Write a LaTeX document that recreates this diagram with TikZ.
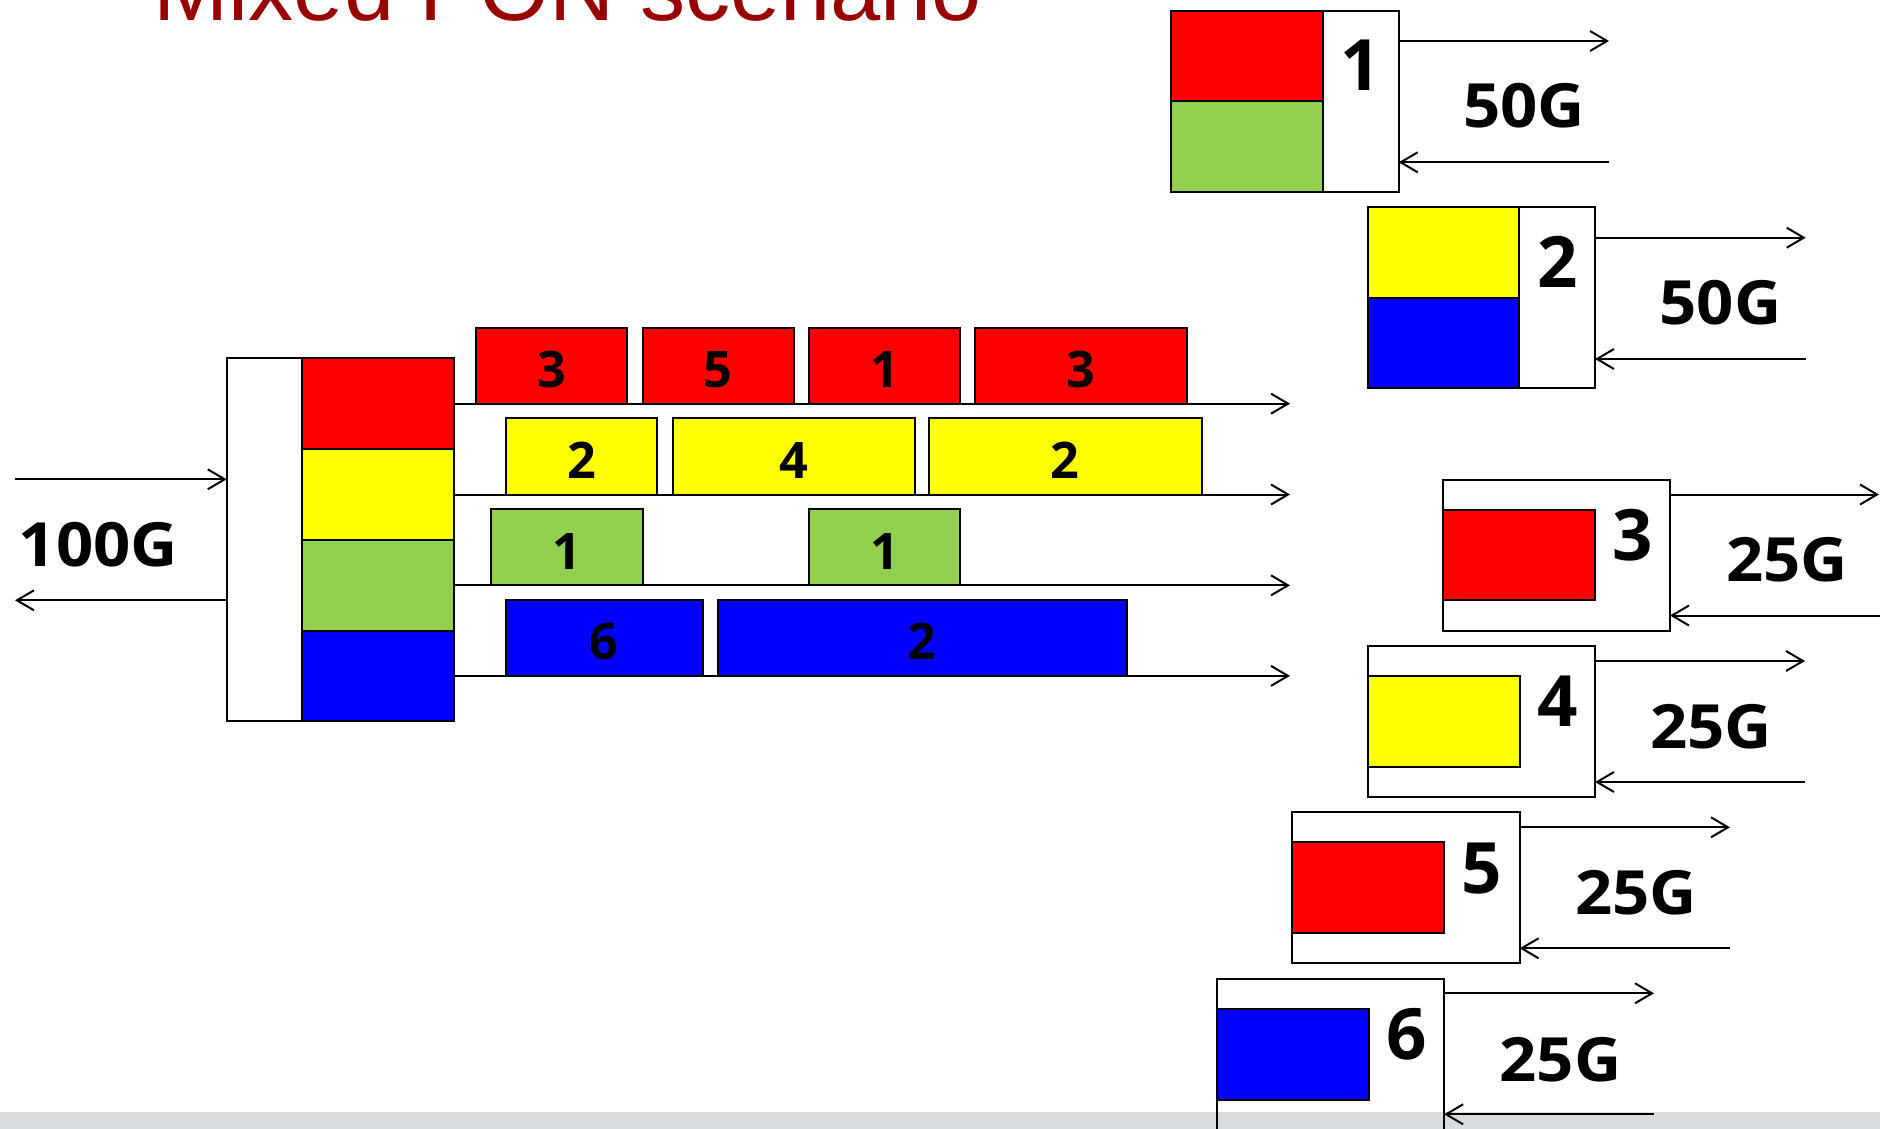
\documentclass[tikz,border=0pt]{standalone}
\usepackage{fontspec}
\newfontfamily\osans{Open Sans}
\newfontfamily\osanswide{Open Sans}[FakeStretch=1.07]
\newfontfamily\lsans{Liberation Sans}
\usetikzlibrary{arrows.meta,calc}
\definecolor{pred}{RGB}{255,0,0}
\definecolor{pyel}{RGB}{255,255,0}
\definecolor{pgrn}{RGB}{146,208,80}
\definecolor{pblu}{RGB}{0,0,255}
\definecolor{ttlred}{RGB}{153,0,0}
\definecolor{footgray}{RGB}{217,220,222}
\newcommand\cellbox[6]{\node[cell,#6,anchor=north west,minimum width={(#4-#2)*0.5pt},minimum height={(#5-#3)*0.5pt}] (#1) at (#2,#3)}
\begin{document}
\begin{tikzpicture}[x=0.5pt,y=-0.5pt,
  cell/.style={draw=black,line width=1pt,inner sep=0pt,outer sep=0pt,rectangle},
  slot/.style={text height=22pt,text depth=0pt,font=\osans\bfseries\fontsize{25.2pt}{30pt}\selectfont},
  arr/.style={line width=1pt,-{Straight Barb[length=8.5pt,width=10pt]}},
  onunum/.style={inner sep=0pt,font=\osans\bfseries\fontsize{35.4pt}{40pt}\selectfont,anchor=base},
  rate/.style={inner sep=0pt,font=\osanswide\bfseries\fontsize{30.5pt}{36pt}\selectfont,anchor=base},
]
\useasboundingbox (0,0) rectangle (1880,1129);
\clip (0,0) rectangle (1880,1129);
\fill[footgray] (0,1112) rectangle (1880,1129);

% title
\node[anchor=base west,inner sep=0pt,text=ttlred,font=\lsans\fontsize{45.15pt}{50pt}\selectfont] (title) at (153,20.7) {Mixed PON scenario};

% OLT
\cellbox{olt}{226.7}{358.3}{453.7}{721}{}{};
\cellbox{bR}{302}{358.3}{453.7}{449}{fill=pred}{};
\cellbox{bY}{302}{449}{453.7}{540}{fill=pyel}{};
\cellbox{bG}{302}{540}{453.7}{630.7}{fill=pgrn}{};
\cellbox{bB}{302}{630.7}{453.7}{721}{fill=pblu}{};

\coordinate (inA) at (15,479.3);
\coordinate (outA) at (15,600.3);
\draw[arr] (inA) -- (inA -| olt.west);
\draw[arr] (outA -| olt.west) -- (outA);
\node[rate] (r100) at (98.5,566.7) {100G};

% wavelength lines
\coordinate (e0) at (1290,0);
\draw[arr] (bR.east) -- (bR.east -| e0);
\draw[arr] (bY.east) -- (bY.east -| e0);
\draw[arr] (bG.east) -- (bG.east -| e0);
\draw[arr] (bB.east) -- (bB.east -| e0);

% data slots
\cellbox{s1}{476}{328}{627}{403.65}{slot,fill=pred}{3};
\cellbox{s2}{642.5}{328}{793.7}{403.65}{slot,fill=pred}{5};
\cellbox{s3}{809}{328}{960.2}{403.65}{slot,fill=pred}{1};
\cellbox{s4}{974.8}{328}{1187}{403.65}{slot,fill=pred}{3};
\cellbox{s5}{506}{418.3}{657}{494.5}{slot,fill=pyel}{2};
\cellbox{s6}{672.5}{418.3}{914.5}{494.5}{slot,fill=pyel}{4};
\cellbox{s7}{929}{418.3}{1201.5}{494.5}{slot,fill=pyel}{2};
\cellbox{s8}{491}{509.3}{642.5}{585.35}{slot,fill=pgrn}{1};
\cellbox{s9}{809}{509.3}{960.2}{585.35}{slot,fill=pgrn}{1};
\cellbox{s10}{506}{600}{702.6}{675.85}{slot,fill=pblu}{6};
\cellbox{s11}{718}{600}{1126.5}{675.85}{slot,fill=pblu}{2};

% ONU 1
\cellbox{onu1}{1171}{10.7}{1398.7}{192.3}{}{};
\cellbox{c1a}{1171}{10.7}{1322.7}{101.5}{fill=pred}{};
\cellbox{c1b}{1171}{101.5}{1322.7}{192.3}{fill=pgrn}{};
\node[onunum] (n1) at (1360.7,90.7) {1};
\coordinate (u1a) at (1609,41);
\coordinate (u1b) at (1609,162.3);
\draw[arr] (onu1.east |- u1a) -- (u1a);
\draw[arr] (u1b) -- (u1b -| onu1.east);
\node[rate] (g1) at (1523.9,127.7) {50G};

% ONU 2
\cellbox{onu2}{1367.7}{207}{1595}{388.3}{}{};
\cellbox{c2a}{1367.7}{207}{1519.3}{297.7}{fill=pyel}{};
\cellbox{c2b}{1367.7}{297.7}{1519.3}{388.3}{fill=pblu}{};
\node[onunum] (n2) at (1557.2,287.5) {2};
\coordinate (u2a) at (1805.7,237.7);
\coordinate (u2b) at (1805.7,359);
\draw[arr] (onu2.east |- u2a) -- (u2a);
\draw[arr] (u2b) -- (u2b -| onu2.east);
\node[rate] (g2) at (1720.5,324) {50G};

% ONU 3
\cellbox{onu3}{1443}{479.5}{1670}{630.7}{}{};
\cellbox{c3}{1443}{510}{1594.7}{600.3}{fill=pred}{};
\node[onunum] (n3) at (1632.3,560) {3};
\coordinate (u3a) at (1879,494.5);
\coordinate (u3b) at (1880,615.5);
\draw[arr] (onu3.east |- u3a) -- (u3a);
\draw[arr] (u3b) -- (u3b -| onu3.east);
\node[rate] (g3) at (1787,581.7) {25G};

% ONU 4
\cellbox{onu4}{1368}{645.7}{1595}{797}{}{};
\cellbox{c4}{1368}{676}{1519.5}{766.7}{fill=pyel}{};
\node[onunum] (n4) at (1557.2,726.5) {4};
\coordinate (u4a) at (1805,661);
\coordinate (u4b) at (1805,782);
\draw[arr] (onu4.east |- u4a) -- (u4a);
\draw[arr] (u4b) -- (u4b -| onu4.east);
\node[rate] (g4) at (1711,748.3) {25G};

% ONU 5
\cellbox{onu5}{1292.4}{812}{1519.6}{963.3}{}{};
\cellbox{c5}{1292.4}{842}{1444}{933.3}{fill=pred}{};
\node[onunum] (n5) at (1481.8,893) {5};
\coordinate (u5a) at (1730,827.3);
\coordinate (u5b) at (1730,948.3);
\draw[arr] (onu5.east |- u5a) -- (u5a);
\draw[arr] (u5b) -- (u5b -| onu5.east);
\node[rate] (g5) at (1636,914.3) {25G};

% ONU 6
\cellbox{onu6}{1217.3}{978.7}{1444.1}{1129.7}{}{};
\cellbox{c6}{1217.3}{1008.7}{1368.7}{1100}{fill=pblu}{};
\node[onunum] (n6) at (1406.4,1059.5) {6};
\coordinate (u6a) at (1654,993.3);
\coordinate (u6b) at (1654,1114.3);
\draw[arr] (onu6.east |- u6a) -- (u6a);
\draw[arr] (u6b) -- (u6b -| onu6.east);
\node[rate] (g6) at (1560.4,1081) {25G};
\end{tikzpicture}
\end{document}
